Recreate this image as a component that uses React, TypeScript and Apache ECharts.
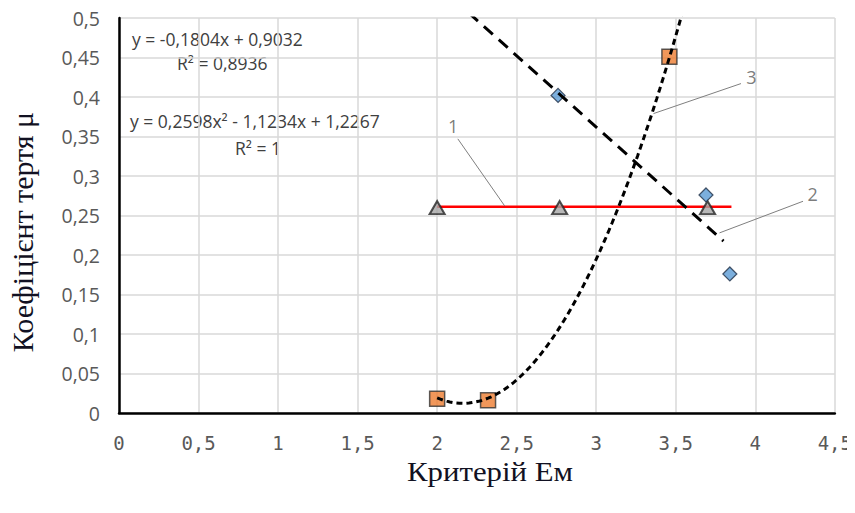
import React, { useEffect, useRef } from "react";
import * as echarts from "echarts";

// Series 1 (triangles): friction coefficient constant
const s1X = [2.0, 2.77, 3.7];
const s1Y = [0.26, 0.26, 0.26];
const redLineX = [2.0, 3.85];
const redLineY = [0.261, 0.261];

// Series 2 (diamonds)
const s2X = [2.76, 3.69, 3.84];
const s2Y = [0.402, 0.276, 0.176];
// Linear trendline y = -0.1804x + 0.9032
const lin = { a: -0.1804, b: 0.9032 };
const linRange = [2.2, 3.8];

// Series 3 (squares)
const s3X = [2.0, 2.32, 3.46];
const s3Y = [0.018, 0.016, 0.451];
// Quadratic trendline y = 0.2598x^2 - 1.1234x + 1.2267
const quad = { a: 0.2598, b: -1.1234, c: 1.2267 };
const quadRange = [2.0, 3.6];

// Leader lines (label, from, to) in data units
const leaderLabels = ["1", "2", "3"];
const leaderLabelPos = [
  [2.1, 0.363],
  [4.36, 0.277],
  [3.975, 0.425],
];
const leaderFrom = [
  [2.13, 0.347],
  [4.3, 0.268],
  [3.91, 0.417],
];
const leaderTo = [
  [2.425, 0.262],
  [3.775, 0.228],
  [3.36, 0.379],
];

const eqLinear = "y = -0,1804x + 0,9032";
const r2Linear = "R² = 0,8936";
const eqQuad = "y = 0,2598x² - 1,1234x + 1,2267";
const r2Quad = "R² = 1";

const xTitle = "Критерій Ем";
const yTitle = "Коефіцієнт тертя μ";

const fmt = (v: number) => String(Number(v.toFixed(2))).replace(".", ",");

export default function App() {
  const ref = useRef<HTMLDivElement>(null);
  useEffect(() => {
    if (!ref.current) return;
    const chart = echarts.init(ref.current, null, { renderer: "svg" });

    const linData: number[][] = linRange.map((x) => [x, lin.a * x + lin.b]);
    const quadData: number[][] = [];
    for (let i = 0; i <= 80; i++) {
      const x = quadRange[0] + ((quadRange[1] - quadRange[0]) * i) / 80;
      quadData.push([x, quad.a * x * x + quad.b * x + quad.c]);
    }

    const leaderSeries = leaderFrom.map((f, i) => ({
      type: "line",
      data: [f, leaderTo[i]],
      symbol: "none",
      lineStyle: { color: "#7f7f7f", width: 1 },
      z: 3,
      silent: true,
      clip: false,
    }));

    const eqStyle = { fill: "#404040", fontSize: 17.5, fontFamily: "Open Sans" };

    const option: any = {
      animation: false,
      grid: { left: 119, right: 16, top: 18, bottom: 100 },
      xAxis: {
        type: "value",
        min: 0,
        max: 4.5,
        interval: 0.5,
        axisLine: { show: true, lineStyle: { color: "#000", width: 2.5 } },
        axisTick: { show: false },
        splitLine: { show: true, lineStyle: { color: "#d9d9d9", width: 1.5 } },
        axisLabel: {
          formatter: fmt,
          color: "#595959",
          fontSize: 19,
          fontFamily: "DejaVu Sans Mono",
          margin: 20,
        },
      },
      yAxis: {
        type: "value",
        min: 0,
        max: 0.5,
        interval: 0.05,
        axisLine: { show: true, lineStyle: { color: "#000", width: 2.5 } },
        axisTick: { show: false },
        splitLine: { show: true, lineStyle: { color: "#d9d9d9", width: 1.5 } },
        axisLabel: {
          formatter: fmt,
          color: "#595959",
          fontSize: 19.5,
          fontFamily: "Open Sans",
          margin: 19,
        },
      },
      series: [
        {
          type: "line",
          data: redLineX.map((x, i) => [x, redLineY[i]]),
          symbol: "none",
          lineStyle: { color: "#ff0000", width: 2.5 },
          z: 2,
        },
        {
          type: "scatter",
          data: s1X.map((x, i) => [x, s1Y[i]]),
          symbol: "triangle",
          symbolSize: [15, 13],
          itemStyle: { color: "#a5a5a5", borderColor: "#262626", borderWidth: 2 },
          z: 4,
        },
        {
          type: "scatter",
          data: s2X.map((x, i) => [x, s2Y[i]]),
          symbol: "diamond",
          symbolSize: [14, 14],
          itemStyle: { color: "#5b9bd5", borderColor: "#1f2f46", borderWidth: 1.2 },
          z: 4,
        },
        {
          type: "scatter",
          data: s3X.map((x, i) => [x, s3Y[i]]),
          symbol: "rect",
          symbolSize: [15, 15],
          itemStyle: { color: "#ed7d31", borderColor: "#333", borderWidth: 1.5 },
          z: 4,
        },
        {
          type: "line",
          data: linData,
          symbol: "none",
          clip: true,
          lineStyle: { color: "#000", width: 3, type: [12, 8] },
          z: 5,
        },
        {
          type: "line",
          data: quadData,
          symbol: "none",
          clip: true,
          lineStyle: { color: "#000", width: 3, type: [6, 4] },
          z: 5,
        },
        ...leaderSeries,
        {
          type: "scatter",
          data: leaderLabelPos.map((p, i) => ({ value: p, name: leaderLabels[i] })),
          symbolSize: 0,
          silent: true,
          clip: false,
          label: {
            show: true,
            position: "inside",
            formatter: (p: any) => p.name,
            color: "#595959",
            fontSize: 18,
            fontFamily: "Open Sans",
          },
          z: 6,
        },
      ],
      graphic: [
        { type: "text", left: 132, top: 30, style: { text: eqLinear, ...eqStyle } },
        { type: "text", left: 177, top: 54, style: { text: r2Linear, ...eqStyle } },
        { type: "text", left: 130, top: 112, style: { text: eqQuad, ...eqStyle } },
        { type: "text", left: 235, top: 139, style: { text: r2Quad, ...eqStyle } },
        {
          type: "text",
          x: 490,
          y: 471,
          scaleX: 1.1,
          style: {
            text: xTitle,
            fill: "#111122",
            fontSize: 28,
            fontFamily: "Liberation Serif",
            align: "center",
            verticalAlign: "middle",
          },
        },
        {
          type: "text",
          x: 22,
          y: 232,
          rotation: Math.PI / 2,
          style: {
            text: yTitle,
            fill: "#111122",
            fontSize: 30,
            fontFamily: "Liberation Serif",
            align: "center",
            verticalAlign: "middle",
          },
        },
      ],
    };
    chart.setOption(option);
    return () => chart.dispose();
  }, []);
  return <div ref={ref} style={{ width: 855, height: 513, marginLeft: -8, marginTop: -8 }} />;
}
